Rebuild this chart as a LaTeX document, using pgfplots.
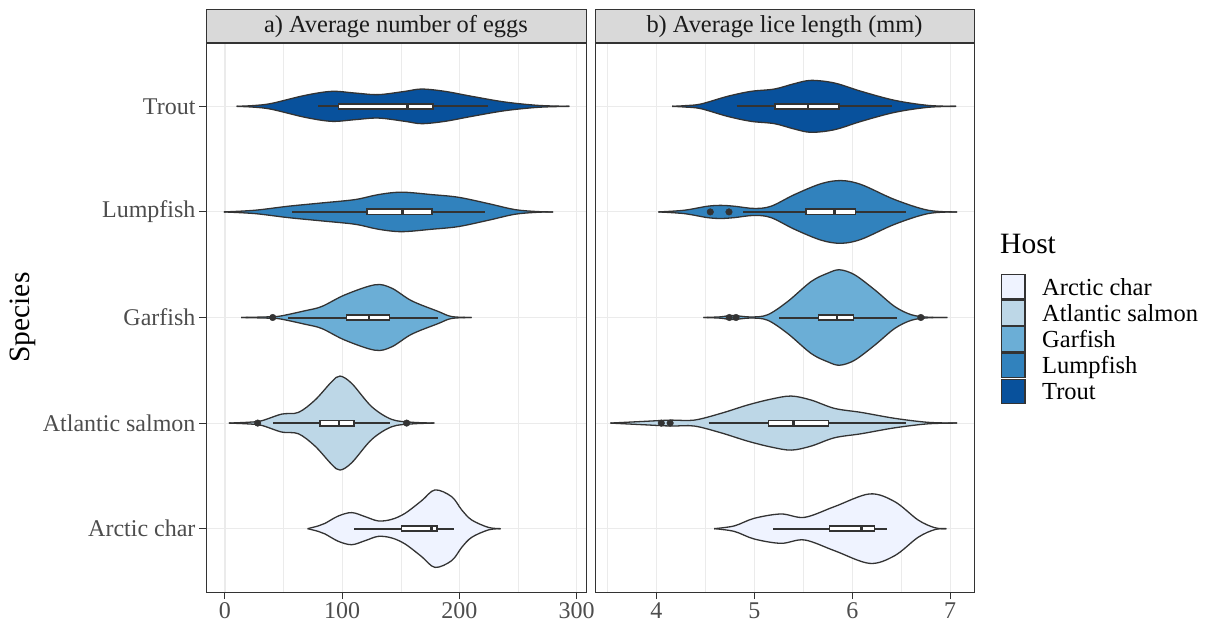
\documentclass[border=0pt]{standalone}
\usepackage{fontspec}
\setmainfont{Liberation Serif}
\usepackage{pgfplots}
\usepackage{pgfplotstable}
\pgfplotsset{compat=1.18}
\usepgfplotslibrary{fillbetween,statistics}

\definecolor{gray20}{HTML}{333333}
\definecolor{gray30}{HTML}{4D4D4D}
\definecolor{gray85}{HTML}{D9D9D9}
\definecolor{gray92}{HTML}{EBEBEB}
\definecolor{gray10}{HTML}{1A1A1A}
\definecolor{cArc}{HTML}{EFF3FF}
\definecolor{cAtl}{HTML}{BDD7E7}
\definecolor{cGar}{HTML}{6BAED6}
\definecolor{cLump}{HTML}{3182BD}
\definecolor{cTrout}{HTML}{08519C}

% ---- panel a: violin half-widths (x, w) ----
\pgfplotstableread{
x w
10 0
25 0.008
39.8 0.028
68.3 0.104
91 0.142
111 0.126
130.8 0.111
153.6 0.142
167.8 0.164
187.7 0.142
210.5 0.095
238.9 0.041
267.3 0.009
293.8 0
}\aTrout
\pgfplotstableread{
x w
-1 0
25.6 0.016
54 0.054
82.5 0.085
111 0.117
130.8 0.164
150.7 0.187
176.4 0.164
199 0.139
224.7 0.079
247.4 0.022
267.3 0.003
280 0
}\aLump
\pgfplotstableread{
x w
13.7 0
30 0.004
40.7 0.008
48.4 0.016
68.3 0.064
82.5 0.104
102.4 0.215
128 0.310
142.2 0.278
159.3 0.158
182 0.057
193.4 0.009
210.5 0
}\aGar
\pgfplotstableread{
x w
3.4 0
20 0.008
31.3 0.022
48.4 0.085
62.6 0.101
76.8 0.218
91 0.391
98.1 0.445
108.1 0.376
125.2 0.155
142.2 0.035
159.3 0.008
178.6 0
}\aAtl
\pgfplotstableread{
x w
70.5 0
79.6 0.026
85.3 0.050
96.7 0.120
108.1 0.152
119.5 0.114
130.8 0.073
142.2 0.088
153.6 0.145
167.8 0.265
179.2 0.367
193.4 0.303
202 0.177
210.5 0.082
224.7 0.012
235.2 0
}\aArc
% ---- panel b ----
\pgfplotstableread{
x w
4.16 0
4.30 0.007
4.454 0.022
4.727 0.095
4.966 0.142
5.205 0.164
5.409 0.215
5.58 0.246
5.819 0.221
6.092 0.142
6.433 0.057
6.774 0.009
7.06 0
}\bTrout
\pgfplotstableread{
x w
4.02 0
4.284 0.016
4.522 0.054
4.66 0.062
4.795 0.054
4.999 0.033
5.171 0.054
5.409 0.164
5.683 0.268
5.887 0.297
6.092 0.259
6.433 0.117
6.774 0.016
7.07 0
}\bLump
\pgfplotstableread{
x w
4.48 0
4.65 0.006
4.78 0.019
4.96 0.005
5.136 0.026
5.341 0.152
5.58 0.341
5.75 0.420
5.87 0.452
6.023 0.405
6.228 0.263
6.433 0.104
6.604 0.026
6.774 0.003
6.97 0
}\bGar
\pgfplotstableread{
x w
3.53 0
3.874 0.016
4.147 0.028
4.386 0.028
4.659 0.092
4.931 0.171
5.171 0.227
5.376 0.256
5.58 0.218
5.819 0.139
6.092 0.101
6.433 0.045
6.774 0.007
7.07 0
}\bAtl
\pgfplotstableread{
x w
4.59 0
4.795 0.026
4.999 0.098
5.273 0.139
5.512 0.107
5.819 0.209
6.177 0.329
6.433 0.256
6.672 0.082
6.842 0.009
6.96 0
}\bArc

\newcommand{\violin}[4]{%
  \addplot[name path=#4u, draw=gray20, line width=1.3pt, smooth, tension=0.55] table[x=x, y expr=#2+\thisrow{w}] {#1};
  \addplot[name path=#4l, draw=gray20, line width=1.3pt, smooth, tension=0.55] table[x=x, y expr=#2-\thisrow{w}] {#1};
  \addplot[fill=#3, draw=none] fill between[of=#4u and #4l];
}
% whisker line first, then box + median on top
\newcommand{\bx}[6]{%
  \addplot[draw=gray20, line width=2pt] coordinates {(#2,#1) (#6,#1)};
  \addplot[draw=gray20, line width=1.6pt, boxplot prepared={draw position=#1, lower whisker=#2, lower quartile=#3, median=#4, upper quartile=#5, upper whisker=#6}] coordinates {};
}

\pgfplotsset{
  panel/.style={
    scale only axis, height=549pt,
    ymin=0.4, ymax=5.6, ytick={1,2,3,4,5},
    set layers,
    axis line style={gray20, line width=1pt},
    grid=both,
    major grid style={gray92, line width=1.1pt},
    minor grid style={gray92, line width=0.55pt},
    tick style={gray20, line width=1pt},
    tick align=outside, tick pos=left,
    major tick length=7pt, minor tick length=0pt,
    tick label style={gray30, font=\fontsize{24}{28}\selectfont},
    /pgf/number format/assume math mode=true,
    boxplot/box extend=0.05,
    boxplot/whisker extend=0,
    boxplot/every box/.style={fill=white, draw=gray20, line width=1.6pt},
    boxplot/every whisker/.style={draw=none},
    boxplot/every median/.style={draw=gray20, line width=2.6pt},
  },
  outl/.style={only marks, mark=*, mark size=3.3pt, draw=gray20, fill=gray20},
}

\begin{document}
\begin{tikzpicture}
\path (0,0) rectangle (1207pt,621pt);

% ---------------- panel a ----------------
\begin{axis}[panel, at={(206pt,29pt)}, anchor=south west, width=380pt,
  xmin=-16.2, xmax=308,
  xtick={0,100,200,300}, minor xtick={50,150,250},
  yticklabels={Arctic char, Atlantic salmon, Garfish, Lumpfish, Trout},
]
\violin{\aTrout}{5}{cTrout}{aT}
\violin{\aLump}{4}{cLump}{aL}
\violin{\aGar}{3}{cGar}{aG}
\violin{\aAtl}{2}{cAtl}{aS}
\violin{\aArc}{1}{cArc}{aC}
\bx{5}{79.6}{96.7}{155.9}{177.7}{224.7}
\bx{4}{57.4}{120.9}{151.6}{176.4}{221.8}
\bx{3}{54}{103.8}{122.9}{140.2}{182}
\bx{2}{41.2}{81.1}{97.3}{110.1}{140.8}
\bx{1}{110.3}{150.7}{176.4}{181.1}{195.6}
\addplot[outl] coordinates {(40.7,3) (27.9,2) (155,2)};
\end{axis}

% ---------------- panel b ----------------
\begin{axis}[panel, at={(595pt,29pt)}, anchor=south west, width=379pt,
  xmin=3.373, xmax=7.243,
  xtick={4,5,6,7}, minor xtick={3.5,4.5,5.5,6.5},
  yticklabels={}, ytick style={draw=none},
]
\violin{\bTrout}{5}{cTrout}{bT}
\violin{\bLump}{4}{cLump}{bL}
\violin{\bGar}{3}{cGar}{bG}
\violin{\bAtl}{2}{cAtl}{bS}
\violin{\bArc}{1}{cArc}{bC}
\bx{5}{4.819}{5.212}{5.546}{5.863}{6.41}
\bx{4}{4.887}{5.529}{5.819}{6.034}{6.546}
\bx{3}{5.256}{5.655}{5.842}{6.013}{6.461}
\bx{2}{4.532}{5.143}{5.402}{5.757}{6.553}
\bx{1}{5.194}{5.768}{6.092}{6.228}{6.354}
\addplot[outl] coordinates {(4.55,4) (4.741,4) (4.744,3) (4.813,3) (6.70,3) (4.05,2) (4.14,2)};
\end{axis}

% strips
\draw[gray20, line width=1pt, fill=gray85] (206pt,578pt) rectangle (586pt,611pt);
\node[gray10, font=\fontsize{24.4}{28}\selectfont] at (396pt,594.5pt) {a) Average number of eggs};
\draw[gray20, line width=1pt, fill=gray85] (595pt,578pt) rectangle (974pt,611pt);
\node[gray10, font=\fontsize{24.4}{28}\selectfont] at (784.5pt,594.5pt) {b) Average lice length (mm)};

% y label
\node[rotate=90, font=\fontsize{29.5}{34}\selectfont] at (22.5pt,303.5pt) {Species};

% legend
\node[anchor=base west, inner sep=0pt, font=\fontsize{29.5}{34}\selectfont] at (1000pt,367pt) {Host};
\foreach \c/\t/\yy in {cArc/Arctic char/334.3, cAtl/Atlantic salmon/308.1, cGar/Garfish/281.9, cLump/Lumpfish/255.7, cTrout/Trout/229.5}{
  \draw[gray20, line width=1.2pt, fill=\c] (1001.5pt,\yy pt-12.3pt) rectangle (1025pt,\yy pt+12.3pt);
  \node[anchor=base west, inner sep=0pt, font=\fontsize{24.5}{29}\selectfont] at (1042pt,\yy pt-8.5pt) {\t};
}
\end{tikzpicture}
\end{document}
